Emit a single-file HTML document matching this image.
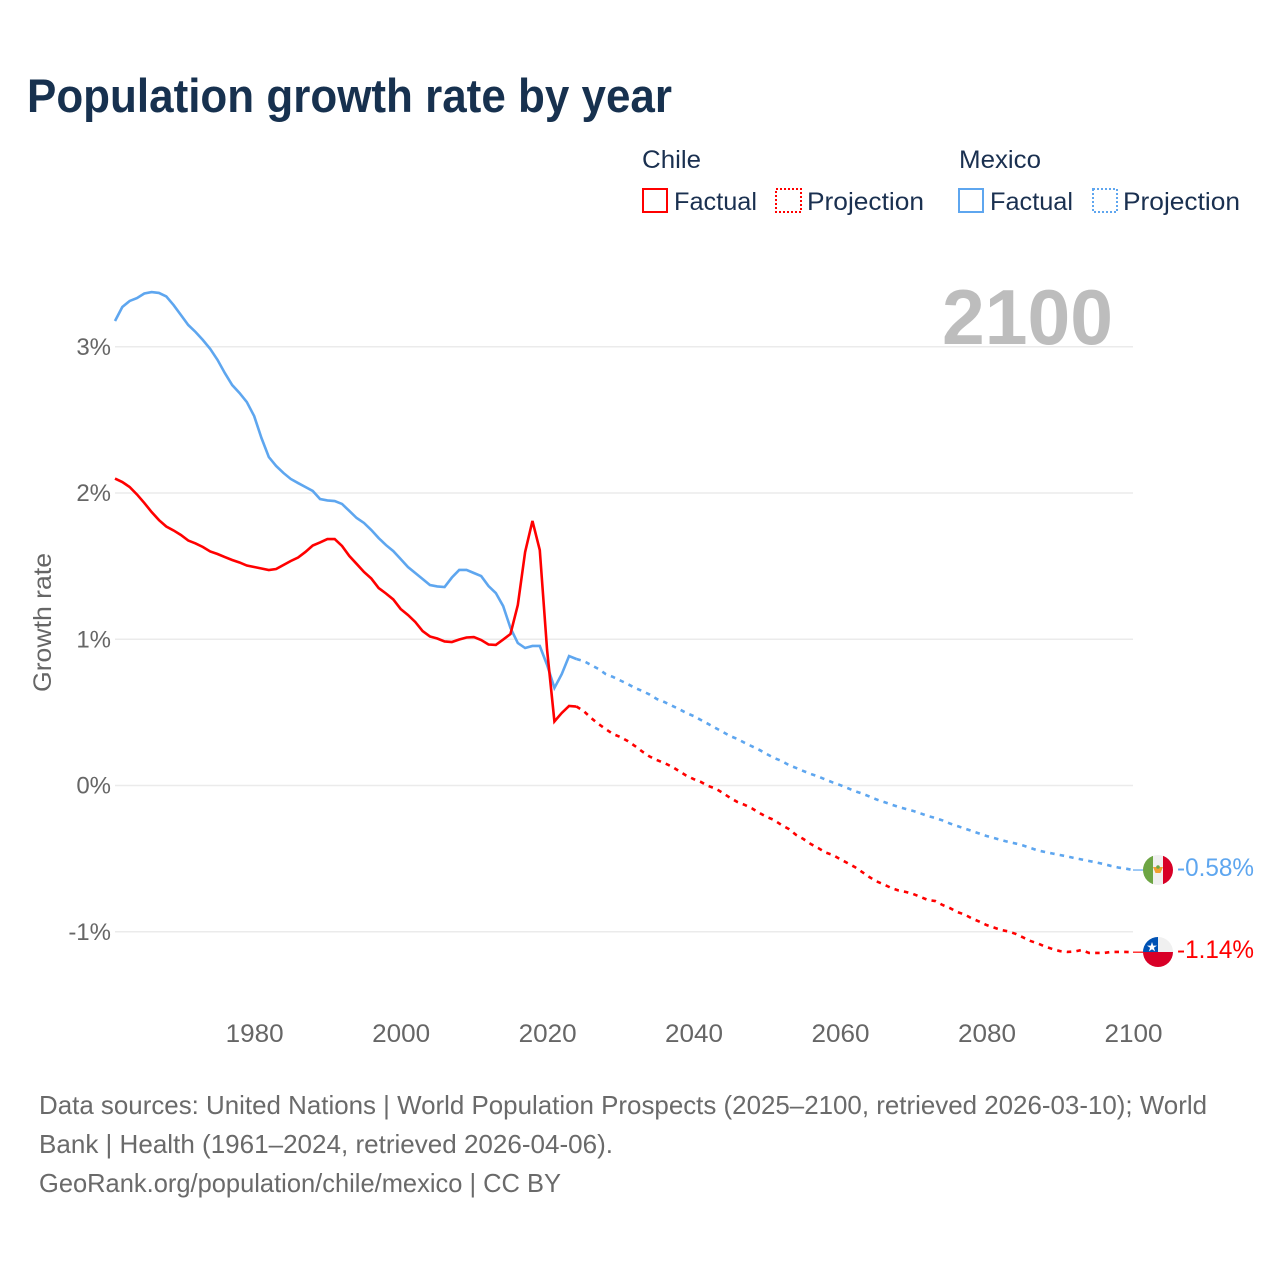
<!DOCTYPE html>
<html lang="en">
<head>
<meta charset="utf-8">
<title>Population growth rate by year</title>
<style>
  html, body { margin: 0; padding: 0; background: #ffffff; }
  svg { display: block; font-family: "Liberation Sans", sans-serif; }
</style>
</head>
<body>
<svg id="chart" xmlns="http://www.w3.org/2000/svg" width="1280" height="1280" viewBox="0 0 1280 1280">
  <defs>
    <clipPath id="clip-mexico"><circle cx="1158" cy="870" r="15"/></clipPath>
    <clipPath id="clip-chile"><circle cx="1158" cy="952" r="15"/></clipPath>
  </defs>
  <rect x="0" y="0" width="1280" height="1280" fill="#ffffff"/>

  <text x="27" y="112" font-size="47" font-weight="700" fill="#17314f" textLength="645" lengthAdjust="spacingAndGlyphs">Population growth rate by year</text>

  <g font-size="25" fill="#1a3050">
    <text x="642" y="168" textLength="59" lengthAdjust="spacingAndGlyphs">Chile</text>
    <rect x="643" y="189" width="24" height="23" fill="none" stroke="#ff0000" stroke-width="2"/>
    <text x="674" y="210" textLength="83" lengthAdjust="spacingAndGlyphs">Factual</text>
    <rect x="776" y="189" width="25" height="23" fill="none" stroke="#ff0000" stroke-width="2" stroke-dasharray="2 2"/>
    <text x="807" y="210" textLength="117" lengthAdjust="spacingAndGlyphs">Projection</text>
    <text x="959" y="168" textLength="82" lengthAdjust="spacingAndGlyphs">Mexico</text>
    <rect x="959" y="189" width="24" height="23" fill="none" stroke="#5ea6ef" stroke-width="2"/>
    <text x="990" y="210" textLength="83" lengthAdjust="spacingAndGlyphs">Factual</text>
    <rect x="1093" y="189" width="24" height="23" fill="none" stroke="#5ea6ef" stroke-width="2" stroke-dasharray="2 2"/>
    <text x="1123" y="210" textLength="117" lengthAdjust="spacingAndGlyphs">Projection</text>
  </g>

  <g id="grid"></g>
  <g id="y-ticks"></g>
  <g id="x-ticks"></g>

  <text transform="translate(51,692) rotate(-90)" font-size="25" fill="#666666" textLength="139" lengthAdjust="spacingAndGlyphs">Growth rate</text>

  <text x="942" y="344" font-size="78" font-weight="700" fill="#bdbdbd" textLength="171" lengthAdjust="spacingAndGlyphs">2100</text>

  <g id="series"></g>

  <g clip-path="url(#clip-mexico)">
    <rect x="1143" y="855" width="30" height="30" fill="#f0f0f0"/>
    <rect x="1143" y="855" width="10" height="30" fill="#6da544"/>
    <rect x="1163" y="855" width="10" height="30" fill="#d80027"/>
    <path d="M1153 867 L1163 867 L1160.5 873 L1155.5 873 Z" fill="#f0a030"/>
    <circle cx="1158" cy="867" r="1.8" fill="#6da544"/>
  </g>
  <g clip-path="url(#clip-chile)">
    <rect x="1143" y="937" width="30" height="15" fill="#f0f0f0"/>
    <rect x="1143" y="937" width="15" height="15" fill="#0052b4"/>
    <rect x="1143" y="952" width="30" height="15" fill="#d80027"/>
    <polygon points="1152,942 1153.2,945.6 1157,945.6 1153.9,947.8 1155.1,951.4 1152,949.2 1148.9,951.4 1150.1,947.8 1147,945.6 1150.8,945.6" fill="#ffffff"/>
  </g>

  <text id="end-label-mexico" x="1177" y="876" font-size="25" fill="#5ea6ef" textLength="77" lengthAdjust="spacingAndGlyphs">-0.58%</text>
  <text id="end-label-chile" x="1177" y="958" font-size="25" fill="#ff0000" textLength="77" lengthAdjust="spacingAndGlyphs">-1.14%</text>

  <g font-size="26" fill="#6a6a6a">
    <text x="39" y="1114" textLength="1168" lengthAdjust="spacingAndGlyphs">Data sources: United Nations | World Population Prospects (2025–2100, retrieved 2026-03-10); World</text>
    <text x="39" y="1153" textLength="574" lengthAdjust="spacingAndGlyphs">Bank | Health (1961–2024, retrieved 2026-04-06).</text>
    <text x="39" y="1192" textLength="522" lengthAdjust="spacingAndGlyphs">GeoRank.org/population/chile/mexico | CC BY</text>
  </g>
</svg>

<script>
const yTickValues = [3, 2, 1, 0, -1];
const xTickYears = [1980, 2000, 2020, 2040, 2060, 2080, 2100];
const factualStartYear = 1961;
const projectionStartYear = 2024;

const mexicoFactual = [
  3.176,3.272,3.313,3.333,3.364,3.374,3.368,3.344,3.285,3.217,
  3.149,3.101,3.046,2.985,2.910,2.820,2.738,2.684,2.622,2.526,
  2.376,2.246,2.185,2.137,2.096,2.068,2.041,2.014,1.959,1.949,
  1.945,1.925,1.877,1.829,1.795,1.747,1.692,1.644,1.603,1.549,
  1.494,1.453,1.412,1.371,1.361,1.357,1.422,1.474,1.474,1.453,
  1.432,1.364,1.316,1.227,1.077,0.974,0.940,0.954,0.954,0.824,
  0.667,0.762,0.885,0.865
];
const chileFactual = [
  2.099,2.075,2.041,1.990,1.932,1.870,1.815,1.771,1.744,1.713,
  1.675,1.655,1.631,1.600,1.583,1.562,1.542,1.525,1.504,1.494,
  1.484,1.473,1.480,1.508,1.535,1.559,1.597,1.641,1.662,1.685,
  1.685,1.638,1.569,1.515,1.460,1.415,1.350,1.313,1.272,1.207,
  1.166,1.118,1.056,1.019,1.005,0.985,0.981,0.998,1.012,1.015,
  0.995,0.964,0.961,0.998,1.036,1.234,1.597,1.809,1.610,0.926,
  0.438,0.496,0.544,0.540
];
const mexicoProjection = [
  0.865,0.851,0.824,0.797,0.762,0.742,0.718,0.694,0.667,0.646,
  0.622,0.591,0.571,0.547,0.523,0.496,0.475,0.448,0.421,0.393,
  0.366,0.338,0.318,0.291,0.267,0.243,0.215,0.188,0.168,0.140,
  0.120,0.099,0.079,0.062,0.041,0.021,0.003,-0.017,-0.038,-0.055,
  -0.075,-0.096,-0.113,-0.130,-0.147,-0.161,-0.174,-0.191,-0.209,-0.222,
  -0.239,-0.260,-0.277,-0.294,-0.311,-0.328,-0.345,-0.359,-0.373,-0.386,
  -0.397,-0.410,-0.427,-0.444,-0.455,-0.465,-0.475,-0.485,-0.496,-0.506,
  -0.516,-0.526,-0.537,-0.550,-0.561,-0.568,-0.578
];
const chileProjection = [
  0.540,0.509,0.462,0.421,0.386,0.352,0.332,0.304,0.270,0.232,
  0.198,0.174,0.154,0.130,0.099,0.068,0.044,0.024,-0.003,-0.021,
  -0.051,-0.085,-0.113,-0.133,-0.157,-0.188,-0.215,-0.236,-0.270,-0.297,
  -0.338,-0.366,-0.400,-0.427,-0.458,-0.475,-0.503,-0.530,-0.557,-0.591,
  -0.626,-0.656,-0.677,-0.701,-0.718,-0.728,-0.742,-0.762,-0.783,-0.790,
  -0.817,-0.838,-0.865,-0.882,-0.909,-0.930,-0.954,-0.971,-0.988,-0.998,
  -1.015,-1.039,-1.063,-1.080,-1.101,-1.118,-1.132,-1.138,-1.135,-1.125,
  -1.145,-1.145,-1.145,-1.138,-1.138,-1.138,-1.140
];

const SVG_NS = 'http://www.w3.org/2000/svg';
const plotLeft = 115;
const plotRight = 1133;

function xScale(year) {
  return plotLeft + (year - 1961) * (plotRight - plotLeft) / (2100 - 1961);
}
function yScale(value) {
  return 785.5 - value * 146.25;
}
function linePath(values, startYear) {
  return values.map(function (v, i) {
    return (i === 0 ? 'M' : 'L') + xScale(startYear + i).toFixed(2) + ' ' + yScale(v).toFixed(2);
  }).join(' ');
}

const gridGroup = document.getElementById('grid');
const yTickGroup = document.getElementById('y-ticks');
yTickValues.forEach(function (v) {
  const line = document.createElementNS(SVG_NS, 'line');
  
  
  line.setAttribute('x1', plotLeft);
  line.setAttribute('x2', plotRight);
  line.setAttribute('y1', yScale(v));
  line.setAttribute('y2', yScale(v));
  line.setAttribute('stroke', '#ebebeb');
  line.setAttribute('stroke-width', '1.4');
  gridGroup.appendChild(line);

  const label = document.createElementNS(SVG_NS, 'text');
  
  
  label.setAttribute('x', 111);
  label.setAttribute('y', yScale(v) + 8);
  label.setAttribute('text-anchor', 'end');
  label.setAttribute('font-size', '24');
  label.setAttribute('fill', '#666666');
  label.textContent = v + '%';
  yTickGroup.appendChild(label);
});

const xTickGroup = document.getElementById('x-ticks');
xTickYears.forEach(function (yr) {
  const label = document.createElementNS(SVG_NS, 'text');
  
  
  label.setAttribute('x', xScale(yr) + 0.5);
  label.setAttribute('y', 1042);
  label.setAttribute('text-anchor', 'middle');
  label.setAttribute('font-size', '25');
  label.setAttribute('fill', '#666666');
  label.setAttribute('textLength', '58');
  label.setAttribute('lengthAdjust', 'spacingAndGlyphs');
  label.textContent = yr;
  xTickGroup.appendChild(label);
});

const seriesGroup = document.getElementById('series');

const pathMexicoFactual = document.createElementNS(SVG_NS, 'path');


pathMexicoFactual.setAttribute('d', linePath(mexicoFactual, factualStartYear));
pathMexicoFactual.setAttribute('fill', 'none');
pathMexicoFactual.setAttribute('stroke', '#5ea6ef');
pathMexicoFactual.setAttribute('stroke-width', '2.6');
seriesGroup.appendChild(pathMexicoFactual);

const pathMexicoProjection = document.createElementNS(SVG_NS, 'path');


pathMexicoProjection.setAttribute('d', linePath(mexicoProjection, projectionStartYear));
pathMexicoProjection.setAttribute('fill', 'none');
pathMexicoProjection.setAttribute('stroke', '#5ea6ef');
pathMexicoProjection.setAttribute('stroke-width', '2.6');
pathMexicoProjection.setAttribute('stroke-dasharray', '4.5 5.2');
seriesGroup.appendChild(pathMexicoProjection);

const pathChileFactual = document.createElementNS(SVG_NS, 'path');


pathChileFactual.setAttribute('d', linePath(chileFactual, factualStartYear));
pathChileFactual.setAttribute('fill', 'none');
pathChileFactual.setAttribute('stroke', '#ff0000');
pathChileFactual.setAttribute('stroke-width', '2.6');
seriesGroup.appendChild(pathChileFactual);

const pathChileProjection = document.createElementNS(SVG_NS, 'path');


pathChileProjection.setAttribute('d', linePath(chileProjection, projectionStartYear));
pathChileProjection.setAttribute('fill', 'none');
pathChileProjection.setAttribute('stroke', '#ff0000');
pathChileProjection.setAttribute('stroke-width', '2.6');
pathChileProjection.setAttribute('stroke-dasharray', '4.5 5.2');
seriesGroup.appendChild(pathChileProjection);

const connectorMexico = document.createElementNS(SVG_NS, 'line');


connectorMexico.setAttribute('x1', plotRight);
connectorMexico.setAttribute('x2', 1143);
connectorMexico.setAttribute('y1', yScale(mexicoProjection[mexicoProjection.length - 1]));
connectorMexico.setAttribute('y2', yScale(mexicoProjection[mexicoProjection.length - 1]));
connectorMexico.setAttribute('stroke', '#5ea6ef');
connectorMexico.setAttribute('stroke-width', '1.5');
connectorMexico.setAttribute('opacity', '0.8');
seriesGroup.appendChild(connectorMexico);

const connectorChile = document.createElementNS(SVG_NS, 'line');


connectorChile.setAttribute('x1', plotRight);
connectorChile.setAttribute('x2', 1143);
connectorChile.setAttribute('y1', yScale(chileProjection[chileProjection.length - 1]));
connectorChile.setAttribute('y2', yScale(chileProjection[chileProjection.length - 1]));
connectorChile.setAttribute('stroke', '#ff0000');
connectorChile.setAttribute('stroke-width', '1.5');
connectorChile.setAttribute('opacity', '0.8');
seriesGroup.appendChild(connectorChile);

document.getElementById('end-label-mexico').textContent = mexicoProjection[mexicoProjection.length - 1].toFixed(2) + '%';
document.getElementById('end-label-chile').textContent = chileProjection[chileProjection.length - 1].toFixed(2) + '%';
</script>
</body>
</html>
